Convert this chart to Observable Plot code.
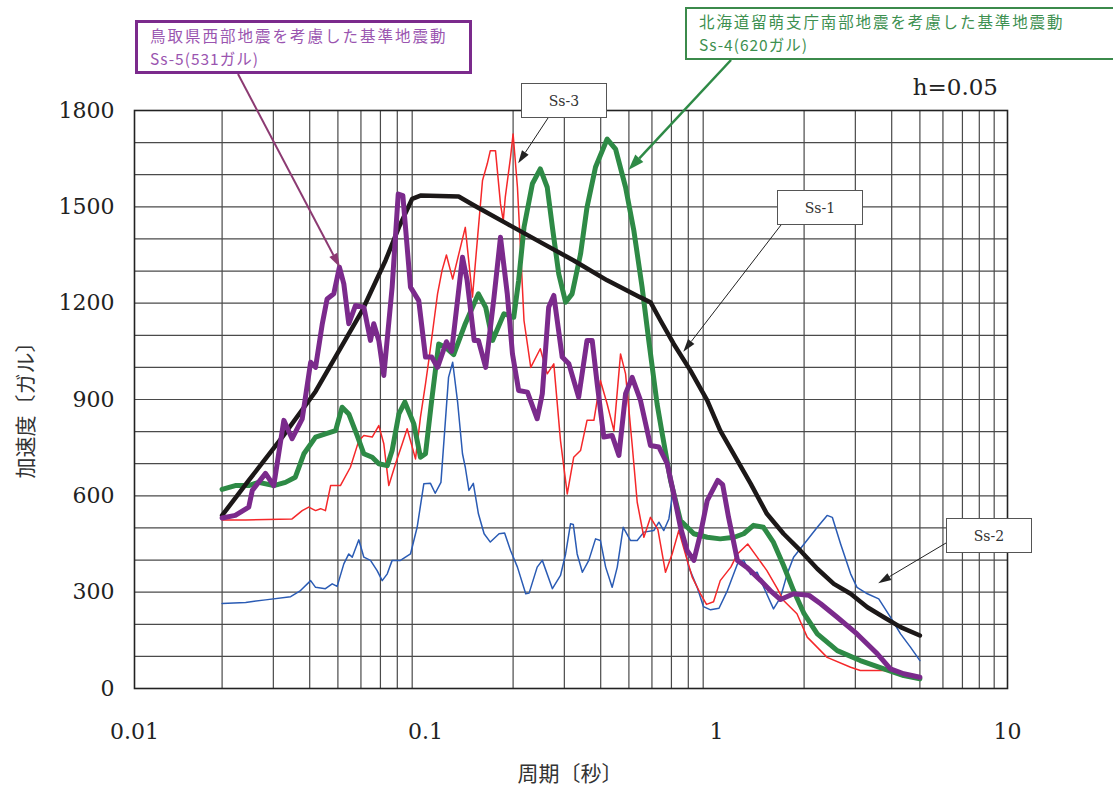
<!DOCTYPE html>
<html><head><meta charset="utf-8">
<script src="https://cdn.jsdelivr.net/npm/d3@7"></script>
<script src="https://cdn.jsdelivr.net/npm/@observablehq/plot@0.6"></script>
<style>
body{margin:0;background:#fff;}
#wrap{position:relative;width:1113px;height:790px;overflow:hidden;background:#fff;}
#wrap > svg{position:absolute;left:0;top:0;}
.box{position:absolute;background:#fff;box-sizing:border-box;}
.cjk{font-family:"Noto Sans CJK JP","Noto Sans",sans-serif;}
.ln{white-space:nowrap;height:22.5px;line-height:22.5px;}
</style></head><body><div id="wrap"></div>
<script>
// ---- data (period [s], acceleration [gal]) ----
const ss1T=[0.02,0.0247,0.0322,0.0419,0.0606,0.0729,0.081,0.09,0.0961,0.13,0.147,0.191,0.248,0.323,0.421,0.548,0.593,0.642,0.713,0.814,0.929,1.03,1.31,1.49,1.70,1.94,2.22,2.53,2.89,3.30,3.76,4.29,5.0];
const ss1A=[539,648,783,925,1177,1333,1436,1525,1535,1532,1504,1447,1390,1333,1271,1218,1203,1146,1073,990,897,803,638,544,482,430,373,326,295,253,222,191,165];

const ss2T=[0.02,0.0241,0.0282,0.0344,0.0372,0.0403,0.0419,0.0453,0.0478,0.0497,0.0524,0.0545,0.056,0.059,0.0614,0.0647,0.0682,0.071,0.0739,0.0768,0.082,0.0888,0.0936,0.0987,0.104,0.108,0.113,0.120,0.124,0.129,0.134,0.137,0.141,0.146,0.152,0.159,0.167,0.179,0.187,0.196,0.207,0.221,0.227,0.242,0.252,0.273,0.291,0.303,0.315,0.322,0.332,0.346,0.364,0.384,0.399,0.416,0.438,0.456,0.478,0.506,0.534,0.563,0.609,0.634,0.659,0.686,0.710,0.752,0.803,0.858,0.902,0.954,1.02,1.09,1.18,1.24,1.31,1.38,1.47,1.57,1.66,1.75,1.84,2.00,2.22,2.40,2.50,2.67,2.89,3.04,3.30,3.61,3.96,4.29,4.64,5.0];
const ss2A=[265,268,276,286,305,336,315,311,326,318,388,419,409,463,409,399,367,336,357,399,399,419,502,638,639,608,642,969,1016,890,731,689,617,639,544,482,456,482,484,430,378,295,297,378,399,311,352,419,513,511,419,362,399,466,461,378,315,378,502,461,461,487,492,518,492,528,617,500,378,315,255,245,250,305,388,399,355,362,305,248,284,357,409,450,502,539,533,450,357,315,295,279,222,170,129,87];

const ss3T=[0.02,0.0241,0.0348,0.0377,0.0397,0.0419,0.0436,0.0453,0.0472,0.051,0.0552,0.059,0.0614,0.0656,0.0691,0.0719,0.0748,0.0789,0.0832,0.0865,0.0924,0.0961,0.100,0.103,0.107,0.110,0.114,0.118,0.124,0.137,0.145,0.151,0.157,0.163,0.167,0.174,0.181,0.185,0.188,0.196,0.200,0.207,0.212,0.218,0.230,0.248,0.262,0.276,0.291,0.307,0.323,0.341,0.359,0.379,0.399,0.421,0.444,0.468,0.487,0.513,0.534,0.563,0.593,0.629,0.668,0.704,0.742,0.782,0.825,0.881,0.924,0.977,1.03,1.12,1.18,1.28,1.38,1.49,1.62,1.70,1.89,2.05,2.40,2.89,3.12,3.76,4.40,5.0];
const ss3A=[525,525,528,554,565,554,560,554,632,632,689,772,788,783,819,762,632,700,762,809,715,845,949,1032,1146,1229,1302,1350,1275,1436,1219,1405,1582,1634,1675,1675,1509,1457,1530,1655,1727,1561,1374,1146,1000,1058,980,1011,772,606,720,741,835,835,959,886,803,1042,980,760,580,471,533,495,362,419,492,419,347,295,262,270,336,378,419,450,409,367,310,274,233,160,97,66,56,56,46,35];

const ss4T=[0.02,0.0222,0.0247,0.0267,0.0301,0.033,0.0357,0.0382,0.0419,0.0453,0.0491,0.0517,0.0545,0.0582,0.0614,0.0656,0.0691,0.0739,0.0768,0.081,0.0849,0.0912,0.0961,0.100,0.105,0.111,0.117,0.125,0.137,0.152,0.161,0.170,0.186,0.201,0.209,0.218,0.233,0.248,0.262,0.273,0.287,0.303,0.319,0.341,0.359,0.384,0.421,0.450,0.487,0.520,0.555,0.585,0.625,0.651,0.695,0.752,0.836,0.929,1.03,1.15,1.24,1.34,1.45,1.57,1.70,1.84,2.00,2.22,2.60,3.12,3.76,4.40,5.0];
const ss4A=[620,632,632,642,632,642,658,731,783,793,803,876,855,788,731,720,700,694,741,855,892,824,720,731,897,1073,1063,1040,1136,1229,1187,1084,1167,1156,1271,1436,1572,1618,1561,1436,1291,1203,1229,1353,1499,1624,1711,1680,1561,1426,1250,1084,886,793,648,523,482,471,466,471,482,508,502,455,383,305,233,170,118,87,61,40,30];

const ss5T=[0.02,0.0222,0.0247,0.0254,0.0282,0.0301,0.0326,0.0348,0.0377,0.0403,0.0419,0.0442,0.0459,0.0484,0.0506,0.0524,0.0545,0.0575,0.0614,0.0647,0.0664,0.0691,0.0719,0.0768,0.0806,0.0836,0.0888,0.0948,0.100,0.105,0.110,0.118,0.123,0.134,0.139,0.147,0.152,0.161,0.172,0.181,0.191,0.199,0.209,0.224,0.242,0.252,0.265,0.276,0.295,0.311,0.336,0.359,0.374,0.389,0.410,0.438,0.462,0.487,0.513,0.548,0.593,0.634,0.677,0.713,0.752,0.793,0.836,0.881,0.929,1.01,1.05,1.10,1.18,1.28,1.42,1.53,1.66,1.84,2.08,2.28,2.60,3.04,3.57,3.96,4.40,5.0];
const ss5A=[531,539,565,617,670,632,835,778,840,1016,1000,1136,1213,1229,1312,1260,1136,1193,1187,1084,1136,1084,975,1250,1540,1535,1250,1208,1032,1032,1000,1080,1050,1343,1271,1084,1084,1000,1219,1405,1229,1042,928,923,840,918,1187,1224,1032,1011,907,1084,1084,949,783,788,726,918,969,897,757,752,700,606,502,429,399,482,585,648,635,533,399,375,336,305,277,295,290,264,222,170,108,61,46,35];

const xTicks=[0.01,0.1,1,10];
const xTickLabels=["0.01","0.1","1","10"];
const yTicks=[0,300,600,900,1200,1500,1800];
const yTickLabels=["0","300","600","900","1200","1500","1800"];
const decades=[0.01,0.1,1];
const gridMult=[2,3,4,5,6,7,8,9];

// annotation targets (data coordinates of arrow tips)
const annSs5={T:0.051,A:1310};
const annSs4={T:0.50,A:1613};
const annSs3={T:0.209,A:1634};
const annSs1={T:0.772,A:1047};
const annSs2={T:3.61,A:326};

const series=[
  {name:"Ss-2",T:ss2T,A:ss2A,color:"#2a5bb4",w:1.5},
  {name:"Ss-3",T:ss3T,A:ss3A,color:"#f5282a",w:1.5},
  {name:"Ss-4",T:ss4T,A:ss4A,color:"#2e8a46",w:5},
  {name:"Ss-1",T:ss1T,A:ss1A,color:"#1c1818",w:4.5},
  {name:"Ss-5",T:ss5T,A:ss5A,color:"#7b2a8c",w:5}
];

const gridX=[];
decades.forEach(d=>gridMult.forEach(m=>gridX.push(+(d*m).toPrecision(3))));
const gridY=d3.range(0,1801,100);

const W=1113,H=790;
const lineMarks=series.map(s=>Plot.line(s.T.map((t,i)=>({T:t,A:s.A[i]})),{x:"T",y:"A",stroke:s.color,strokeWidth:s.w,strokeLinejoin:"round",strokeLinecap:"round"}));

const chart=Plot.plot({
  width:W,height:H,marginLeft:134,marginRight:106,marginTop:110,marginBottom:102,
  style:{fontFamily:"'DejaVu Serif',serif",fontSize:"22px",color:"#222",background:"transparent"},
  x:{type:"log",domain:[0.01,10]},
  y:{domain:[0,1800]},
  marks:[
    Plot.ruleY(gridY,{stroke:"#4a4a4a",strokeWidth:1.2}),
    Plot.ruleX(gridX,{stroke:"#4a4a4a",strokeWidth:1.2}),
    ...lineMarks,
    Plot.frame({stroke:"#222",strokeWidth:1.6}),
    Plot.axisY({ticks:yTicks,tickFormat:d=>yTickLabels[yTicks.indexOf(d)],tickSize:0,tickPadding:20,label:null,fontSize:22}),
    Plot.axisX({ticks:xTicks,tickFormat:d=>xTickLabels[xTicks.indexOf(d)],tickSize:0,tickPadding:35,label:null,fontSize:22})
  ]
});
const wrap=document.getElementById("wrap");
wrap.appendChild(chart);

const xs=chart.scale("x"), ys=chart.scale("y");

// boxes
function addBox(html,style){const d=document.createElement("div");d.className="box";d.innerHTML=html;Object.assign(d.style,style);wrap.appendChild(d);return d;}
addBox('<div class="cjk" style="font-size:15.5px;color:#9a55b0;padding:1px 0 0 12px;"><div class="ln" style="letter-spacing:2px">鳥取県西部地震を考慮した基準地震動</div><div class="ln" style="letter-spacing:1px">Ss-5(531ガル)</div></div>',
  {left:"135px",top:"20px",width:"337px",height:"54px",border:"3px solid #7b2a8c"});
addBox('<div class="cjk" style="font-size:15.5px;color:#3d9050;padding:1px 0 0 12px;"><div class="ln" style="letter-spacing:1.9px">北海道留萌支庁南部地震を考慮した基準地震動</div><div class="ln" style="letter-spacing:1px">Ss-4(620ガル)</div></div>',
  {left:"685px",top:"7px",width:"440px",height:"53px",border:"2.5px solid #3b8a4b"});
const smallBox=(t,l,tp)=>addBox('<div style="font-family:\'DejaVu Serif\',serif;font-size:14px;color:#333;text-align:center;line-height:34px;">'+t+'</div>',
  {left:l+"px",top:tp+"px",width:"86px",height:"35px",border:"1px solid #555"});
smallBox("Ss-3",521,83);
smallBox("Ss-1",777,190);
smallBox("Ss-2",946,518);

// overlay svg for leader arrows and free texts
const ov=d3.select(wrap).append("svg").attr("width",W).attr("height",H).style("position","absolute").style("left",0).style("top",0).style("pointer-events","none");
function arrow(x1,y1,a,color,w,hl,hw){
  const x2=xs.apply(a.T), y2=ys.apply(a.A);
  const ang=Math.atan2(y2-y1,x2-x1);
  const bx=x2-hl*Math.cos(ang), by=y2-hl*Math.sin(ang);
  ov.append("line").attr("x1",x1).attr("y1",y1).attr("x2",bx).attr("y2",by).attr("stroke",color).attr("stroke-width",w);
  const px=-Math.sin(ang)*hw/2, py=Math.cos(ang)*hw/2;
  ov.append("path").attr("d",`M${x2},${y2}L${bx+px},${by+py}L${bx-px},${by-py}Z`).attr("fill",color);
}
arrow(238,74,annSs5,"#8c3a72",2,14,9);
arrow(731,60,annSs4,"#2e8a46",2.5,16,11);
arrow(548,118,annSs3,"#222",1,13,8);
arrow(781,225,annSs1,"#222",1,13,8);
arrow(946,543,annSs2,"#222",1,13,8);

ov.append("text").attr("x",998).attr("y",95).attr("text-anchor","end").attr("font-family","'DejaVu Serif',serif").attr("font-size",23).attr("fill","#222").text("h=0.05");
ov.append("text").attr("x",570).attr("y",781).attr("text-anchor","middle").attr("class","cjk").attr("font-size",21).attr("fill","#333").text("周期〔秒〕");
ov.append("text").attr("transform","translate(33,405) rotate(-90)").attr("text-anchor","middle").attr("class","cjk").attr("font-size",21).attr("fill","#333").text("加速度〔ガル〕");
</script></body></html>
